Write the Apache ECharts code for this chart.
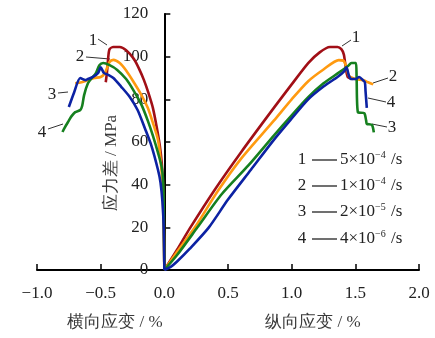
<!DOCTYPE html>
<html><head><meta charset="utf-8">
<script src="https://cdn.jsdelivr.net/npm/echarts@6/dist/echarts.min.js"></script>
<style>html,body{margin:0;padding:0;background:#fff}#c{width:435px;height:338px}</style>
</head><body><div id="c"></div>
<script>
// Curve ids, strain-rate legend and tick values
const curveIds = ['1', '2', '3', '4'];
const rateMantissa = ['5', '1', '2', '4'];
const rateExponent = ['−4', '−4', '−5', '−6'];
const colors = ['#A10F16', '#FF9A10', '#16801F', '#0C22A3'];
const xTicks = [-1.0, -0.5, 0.0, 0.5, 1.0, 1.5, 2.0];
const yTicks = [0, 20, 40, 60, 80, 100, 120];

// Axial branch: [longitudinal strain %, deviatoric stress MPa]
const axial1 = [[0,0],[0.1,9.5],[0.2,19.5],[0.4,38],[0.6,55],[0.86,76],[1.0,87],[1.13,97],[1.22,102],[1.3,104.5],[1.36,104.5],[1.39,103.5],[1.41,101],[1.42,97],[1.44,90.5],[1.48,89.5]];
const axial2 = [[0,0],[0.1,8.5],[0.24,20],[0.42,37],[0.6,52],[0.86,70],[1.0,80],[1.13,88.5],[1.25,94],[1.37,98.4],[1.41,98],[1.43,95],[1.45,91],[1.5,89.5],[1.56,89],[1.6,88],[1.64,87]];
const axial3 = [[0,0],[0.1,7],[0.26,20],[0.45,35.5],[0.66,49],[0.86,63],[1.0,72.5],[1.13,81],[1.25,87.5],[1.37,92.5],[1.44,95.5],[1.47,97],[1.505,97],[1.51,90],[1.52,74],[1.57,73.5],[1.585,70],[1.59,68.5],[1.63,68],[1.645,64.5]];
const axial4 = [[0,0],[0.05,1.5],[0.1,4],[0.2,10],[0.35,20],[0.5,33],[0.68,47],[0.86,61],[1.0,71],[1.13,80],[1.25,86],[1.36,90.5],[1.41,93],[1.43,95],[1.45,91],[1.47,89.5],[1.5,89.5],[1.53,90.5],[1.56,89],[1.575,88],[1.58,84],[1.59,76]];

// Lateral branch: [lateral strain %, deviatoric stress MPa]
const lateral1 = [[0,0],[-0.003,20],[-0.01,40],[-0.02,50],[-0.035,58],[-0.06,67],[-0.09,76],[-0.125,83],[-0.16,89],[-0.2,94.5],[-0.24,99],[-0.3,103],[-0.35,104.5],[-0.40,104.5],[-0.43,103.5],[-0.44,100],[-0.45,93],[-0.46,88]];
const lateral2 = [[0,0],[-0.005,20],[-0.015,40],[-0.03,52],[-0.05,61],[-0.09,69],[-0.13,76],[-0.18,82],[-0.24,88],[-0.3,93.5],[-0.35,97],[-0.40,98.5],[-0.43,97.5],[-0.47,92],[-0.5,90.5],[-0.55,90],[-0.6,89],[-0.65,88],[-0.70,87.5]];
const lateral3 = [[0,0],[-0.003,20],[-0.008,40],[-0.02,48],[-0.05,55],[-0.09,63],[-0.13,70],[-0.18,77.5],[-0.24,84],[-0.3,89.5],[-0.37,93.8],[-0.43,96],[-0.48,97],[-0.51,96],[-0.54,92],[-0.57,90],[-0.6,87.5],[-0.63,82],[-0.645,77],[-0.66,75],[-0.7,74],[-0.73,72],[-0.75,70],[-0.78,67],[-0.8,64.7]];
const lateral4 = [[0,0],[-0.005,20],[-0.015,32],[-0.03,41],[-0.05,47],[-0.1,58],[-0.15,66],[-0.21,75],[-0.27,81],[-0.34,86],[-0.40,90],[-0.44,91.5],[-0.475,92.4],[-0.5,95],[-0.52,92.4],[-0.56,90.5],[-0.6,89.5],[-0.62,89],[-0.66,90],[-0.71,83],[-0.75,76.4]];

const axialSets = [axial1, axial2, axial3, axial4];
const lateralSets = [lateral1, lateral2, lateral3, lateral4];

const SERIF = 'Liberation Serif';
const GRID = {left: 37, right: 16, top: 14, bottom: 68};
const W = 435;
const chart = echarts.init(document.getElementById('c'), null, {renderer: 'canvas'});

const series = [];
curveIds.forEach((id, i) => {
  [lateralSets[i], axialSets[i]].forEach((d, k) => {
    series.push({
      name: id + (k ? 'a' : 'l'),
      type: 'line',
      data: d,
      showSymbol: false,
      smooth: 0.25,
      z: 2 + i,
      lineStyle: {color: colors[i], width: 2.6},
      emphasis: {disabled: true}
    });
  });
});

const fmt = v => (v < 0 ? '−' + Math.abs(v).toFixed(1) : v.toFixed(1));

// The stress axis stands at zero strain: shift it in from the grid's left edge
const xMin = xTicks[0], xMax = xTicks[xTicks.length - 1];
const plotW = W - GRID.left - GRID.right;
const yAxisShift = -plotW * (0 - xMin) / (xMax - xMin);

// Curve tags with leader lines
const tags = [
  {t: '1', x: 93, y: 41, l: [98, 39, 107, 45]},
  {t: '2', x: 80, y: 57, l: [86, 57, 110, 59]},
  {t: '3', x: 52, y: 95, l: [58, 93, 68, 92]},
  {t: '4', x: 42, y: 133, l: [48, 129, 63, 124]},
  {t: '1', x: 356, y: 38, l: [342, 46, 351, 40]},
  {t: '2', x: 393, y: 77, l: [373, 83, 388, 78]},
  {t: '4', x: 391, y: 103, l: [368, 98, 386, 102]},
  {t: '3', x: 392, y: 128, l: [372, 124, 387, 127]}
];
const graphic = [];
tags.forEach(g => {
  graphic.push({type: 'text', x: g.x, y: g.y, style: {text: g.t, fontSize: 17, fontFamily: SERIF, fill: '#222', align: 'center', verticalAlign: 'middle'}});
  graphic.push({type: 'line', shape: {x1: g.l[0], y1: g.l[1], x2: g.l[2], y2: g.l[3]}, style: {stroke: '#333', lineWidth: 1}});
});

// Strain-rate legend
const rowY = [160, 186, 212, 239];
curveIds.forEach((id, i) => {
  graphic.push({type: 'text', x: 302, y: rowY[i], style: {text: id, fontSize: 17, fontFamily: SERIF, fill: '#222', align: 'center', verticalAlign: 'middle'}});
  graphic.push({type: 'line', shape: {x1: 312, y1: rowY[i], x2: 337, y2: rowY[i]}, style: {stroke: '#222', lineWidth: 1.3}});
  graphic.push({type: 'text', x: 340, y: rowY[i], style: {
    text: '{b|' + rateMantissa[i] + '×10}{s|' + rateExponent[i] + '}{b| /s}',
    verticalAlign: 'middle', align: 'left',
    rich: {
      b: {fontSize: 17, fontFamily: SERIF, fill: '#222'},
      s: {fontSize: 10, fontFamily: SERIF, fill: '#222', padding: [0, 1, 9, 0]}
    }
  }});
});

// Axis titles
const titleStyle = {fontSize: 17, fontFamily: SERIF, fill: '#3a3a3a', align: 'center', verticalAlign: 'middle'};
graphic.push({type: 'text', x: 112, y: 163, rotation: Math.PI / 2, style: Object.assign({text: '应力差 / MPa'}, titleStyle)});
graphic.push({type: 'text', x: 115, y: 323, style: Object.assign({text: '横向应变 / %'}, titleStyle)});
graphic.push({type: 'text', x: 313, y: 323, style: Object.assign({text: '纵向应变 / %'}, titleStyle)});

chart.setOption({
  animation: false,
  backgroundColor: '#fff',
  grid: Object.assign({containLabel: false}, GRID),
  xAxis: {
    type: 'value', min: xMin, max: xMax, interval: 0.5,
    axisLine: {onZero: false, lineStyle: {color: '#000', width: 2}},
    axisTick: {inside: true, length: 6, lineStyle: {color: '#000', width: 1.5}},
    axisLabel: {formatter: fmt, fontFamily: SERIF, fontSize: 17, color: '#222', margin: 15},
    splitLine: {show: false}
  },
  yAxis: {
    type: 'value', min: yTicks[0], max: yTicks[yTicks.length - 1], interval: 20,
    position: 'left', offset: yAxisShift,
    axisLine: {onZero: false, lineStyle: {color: '#000', width: 2}},
    axisTick: {inside: true, length: 6, lineStyle: {color: '#000', width: 1.5}},
    axisLabel: {fontFamily: SERIF, fontSize: 17, color: '#222', margin: 16},
    splitLine: {show: false}
  },
  series: series,
  graphic: graphic
});
</script></body></html>
